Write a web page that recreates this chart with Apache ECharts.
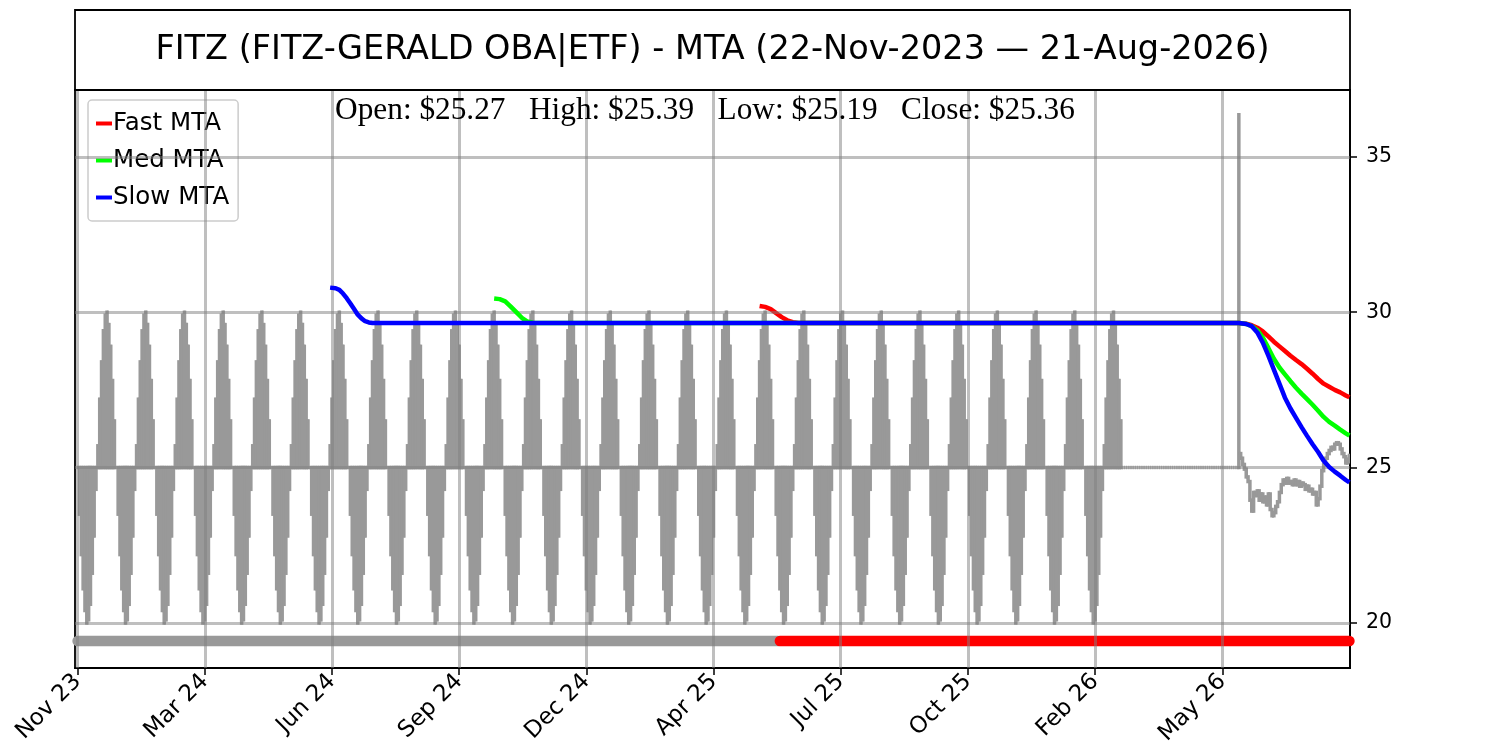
<!DOCTYPE html>
<html>
<head>
    <meta charset="UTF-8">
    <title>FITZ - MTA</title>
    <script src="https://cdn.jsdelivr.net/npm/echarts@6.0.0/dist/echarts.min.js"></script>
    <style>
        html, body {
            margin: 0;
            padding: 0;
            background: #fff;
        }

        #chart {
            width: 1500px;
            height: 750px;
        }
    </style>
</head>
<body>
<div id="chart"></div>

<script>
    // x axis is the bar index (trading days), labels sit on every 69th bar
    var tickIdx = [0, 69, 138, 207, 276, 345, 414, 483, 552, 621];
    var tickLabels = ['Nov 23', 'Mar 24', 'Jun 24', 'Sep 24', 'Dec 24', 'Apr 25', 'Jul 25', 'Oct 25', 'Feb 26', 'May 26'];
    var yTicks = [20, 25, 30, 35];

    // price bars
    var basePrice = 25;
    var sawCycle = [25.0, 23.5, 22.2, 21.1, 20.4, 20.0, 20.1, 20.6, 21.6, 22.8, 24.3,
        25.7, 27.2, 28.4, 29.4, 29.9, 30.0, 29.6, 28.9, 27.8, 26.5];
    var sawCycles = 27;      // the pattern repeats 27 times in the picture
    var flatBars = 63;       // bars stuck at 25 after the pattern
    var spikeBar = {open: 25, high: 36.35, low: 25, close: 25.45};
    var tailClose = [25.30, 25.10, 24.95, 24.70, 24.55, 23.95, 23.60, 24.20, 24.10, 24.25,
        23.95, 24.15, 23.90, 24.05, 23.80, 24.15, 23.65, 23.45, 23.55, 23.75,
        23.90, 24.20, 24.45, 24.60, 24.50, 24.65, 24.50, 24.55, 24.45, 24.60,
        24.45, 24.55, 24.40, 24.50, 24.45, 24.30, 24.40, 24.25, 24.30, 24.15,
        24.20, 23.80, 24.00, 24.40, 24.90, 25.10, 25.30, 25.45, 25.55, 25.65,
        25.60, 25.75, 25.80, 25.75, 25.60, 25.45, 25.35, 25.15, 25.27];
    var lastBar = {open: 25.27, high: 25.39, low: 25.19, close: 25.36};

    // moving trend averages, [bar index, value]
    var fastMta = [[370, 30.2], [373, 30.17], [376, 30.1], [379, 29.97], [382, 29.84], [385, 29.74],
        [388, 29.68], [391, 29.65], [630, 29.65], [634, 29.63], [637, 29.58], [640, 29.5],
        [643, 29.38], [646, 29.22], [649, 29.05], [652, 28.9], [655, 28.75], [658, 28.6],
        [661, 28.46], [664, 28.33], [667, 28.18], [670, 28.02], [673, 27.85], [676, 27.7],
        [679, 27.6], [682, 27.5], [685, 27.42], [688, 27.32], [690, 27.26]];
    var medMta = [[226, 30.44], [229, 30.42], [232, 30.35], [235, 30.18], [238, 30.0], [241, 29.82],
        [244, 29.7], [247, 29.66], [250, 29.65], [630, 29.65], [634, 29.62], [637, 29.55],
        [640, 29.42], [643, 29.18], [646, 28.85], [649, 28.5], [652, 28.22], [655, 28.0],
        [658, 27.78], [661, 27.57], [664, 27.38], [667, 27.2], [670, 27.02], [673, 26.83],
        [676, 26.63], [679, 26.47], [682, 26.35], [685, 26.22], [688, 26.1], [690, 26.03]];
    var slowMta = [[137, 30.79], [140, 30.77], [142, 30.72], [144, 30.6], [146, 30.45], [148, 30.28],
        [150, 30.1], [152, 29.92], [154, 29.8], [156, 29.71], [158, 29.67], [160, 29.65],
        [630, 29.65], [634, 29.62], [637, 29.55], [640, 29.35], [643, 29.02], [646, 28.6],
        [649, 28.15], [652, 27.7], [655, 27.25], [658, 26.9], [661, 26.6], [664, 26.3],
        [667, 26.02], [670, 25.75], [673, 25.5], [676, 25.22], [679, 25.02], [682, 24.87],
        [685, 24.74], [688, 24.6], [690, 24.52]];

    // signal strip under the bars
    var bandLevel = 19.42;
    var signalStart = 381;

    // ---- build rows [idx, open, high, low, close] ----
    var ohlc = [];
    var idx = 0;
    for (var c = 0; c < sawCycles; c++) {
        for (var k = 0; k < sawCycle.length; k++) {
            var v = sawCycle[k];
            ohlc.push([idx++, basePrice, Math.max(basePrice, v), Math.min(basePrice, v), v]);
        }
    }
    for (var f = 0; f < flatBars; f++) {
        ohlc.push([idx++, basePrice, basePrice, basePrice, basePrice]);
    }
    ohlc.push([idx++, spikeBar.open, spikeBar.high, spikeBar.low, spikeBar.close]);
    var prev = spikeBar.close;
    tailClose.forEach(function (v) {
        ohlc.push([idx++, prev, Math.max(prev, v), Math.min(prev, v), v]);
        prev = v;
    });
    ohlc.push([idx++, lastBar.open, lastBar.high, lastBar.low, lastBar.close]);

    var bandOff = [], bandOn = [];
    for (var i = 0; i < ohlc.length; i++) {
        if (i < signalStart) bandOff.push([i, bandLevel]);
        else bandOn.push([i, bandLevel]);
    }

    var gridColor = 'rgba(128,128,128,0.5)';
    var gridLines = tickIdx.map(function (t) { return {xAxis: t}; })
        .concat(yTicks.map(function (t) { return {yAxis: t}; }));

    var chart = echarts.init(document.getElementById('chart'), null, {renderer: 'canvas'});

    chart.setOption({
        animation: false,
        textStyle: {fontFamily: 'DejaVu Sans'},
        grid: {
            left: 75, right: 150, top: 90, bottom: 82,
            show: true, borderColor: '#000', borderWidth: 1.8, backgroundColor: '#fff'
        },
        graphic: [
            {
                type: 'rect', z: 10,
                shape: {x: 75, y: 10, width: 1275, height: 80},
                style: {fill: 'none', stroke: '#000', lineWidth: 1.8}
            },
            {
                type: 'text', x: 712.5, y: 50, z: 10,
                style: {
                    text: 'FITZ (FITZ-GERALD OBA|ETF) - MTA (22-Nov-2023 \u2014 21-Aug-2026)',
                    font: '33.5px "DejaVu Sans"', fill: '#000',
                    textAlign: 'center', textVerticalAlign: 'middle'
                }
            },
            {
                type: 'text', x: 705, y: 111, z: 10,
                style: {
                    text: 'Open: $25.27   High: $25.39   Low: $25.19   Close: $25.36',
                    font: '31.3px "Liberation Serif"', fill: '#000',
                    textAlign: 'center', textVerticalAlign: 'middle'
                }
            }
        ],
        legend: {
            data: ['Fast MTA', 'Med MTA', 'Slow MTA'],
            orient: 'vertical',
            left: 88, top: 100,
            padding: [11, 9, 11, 8],
            itemGap: 12,
            itemWidth: 16, itemHeight: 4,
            icon: 'rect',
            backgroundColor: 'rgba(255,255,255,0.8)',
            borderColor: '#cccccc', borderWidth: 1.5, borderRadius: 4,
            textStyle: {fontSize: 24.5, color: '#000', fontFamily: 'DejaVu Sans', padding: [0, 0, 0, -4]},
            selectedMode: false
        },
        xAxis: {
            type: 'value',
            min: -1.4, max: 690.3,
            axisLine: {show: true, onZero: false, lineStyle: {color: '#000', width: 1.8}},
            splitLine: {show: false},
            axisTick: {
                show: true, inside: false, customValues: tickIdx, length: 7,
                lineStyle: {color: '#000', width: 1.5}
            },
            axisLabel: {
                customValues: tickIdx, rotate: 45, margin: 10,
                fontSize: 23, color: '#000', fontFamily: 'DejaVu Sans',
                formatter: function (val) {
                    var n = tickIdx.indexOf(Math.round(val));
                    return n >= 0 ? tickLabels[n] : '';
                }
            }
        },
        yAxis: {
            type: 'value',
            position: 'right',
            min: 18.55, max: 37.15,
            axisLine: {show: true, onZero: false, lineStyle: {color: '#000', width: 1.8}},
            splitLine: {show: false},
            axisTick: {
                show: true, inside: false, customValues: yTicks, length: 7,
                lineStyle: {color: '#000', width: 1.5}
            },
            axisLabel: {
                customValues: yTicks, margin: 16,
                fontSize: 20.5, color: '#000', fontFamily: 'DejaVu Sans'
            }
        },
        series: [
            {
                name: 'Price',
                type: 'custom',
                z: 1,
                clip: true,
                data: ohlc,
                encode: {x: 0, y: [1, 2, 3, 4]},
                renderItem: function (params, api) {
                    var x = api.value(0);
                    var pO = api.coord([x, api.value(1)]);
                    var pH = api.coord([x, api.value(2)]);
                    var pL = api.coord([x, api.value(3)]);
                    var pC = api.coord([x, api.value(4)]);
                    var flat = api.value(2) === api.value(3);
                    var st = {stroke: '#999999', lineWidth: 3.5};
                    var stBar = {stroke: '#999999', lineWidth: 3.5, lineCap: flat ? 'butt' : 'square'};
                    return {
                        type: 'group',
                        children: [
                            {type: 'line', shape: {x1: pH[0], y1: pH[1], x2: pL[0], y2: pL[1]}, style: stBar},
                            {type: 'line', shape: {x1: pO[0] - 0.6, y1: pO[1], x2: pO[0], y2: pO[1]}, style: st},
                            {type: 'line', shape: {x1: pC[0], y1: pC[1], x2: pC[0] + 0.6, y2: pC[1]}, style: st}
                        ]
                    };
                }
            },
            {
                // grid lines, drawn over the price bars
                name: 'grid',
                type: 'line',
                z: 2,
                data: [],
                markLine: {
                    silent: true,
                    symbol: ['none', 'none'],
                    label: {show: false},
                    lineStyle: {color: gridColor, width: 3, type: 'solid'},
                    data: gridLines
                }
            },
            {
                name: 'no signal',
                type: 'line',
                z: 3,
                clip: true,
                showSymbol: false,
                lineStyle: {color: '#999999', width: 10.5, cap: 'round'},
                data: bandOff
            },
            {
                name: 'signal',
                type: 'line',
                z: 3,
                clip: true,
                showSymbol: false,
                lineStyle: {color: '#ff0000', width: 10.5, cap: 'round'},
                data: bandOn
            },
            {
                name: 'Fast MTA', type: 'line', z: 4, data: fastMta,
                showSymbol: false, color: '#ff0000',
                lineStyle: {color: '#ff0000', width: 4.5}
            },
            {
                name: 'Med MTA', type: 'line', z: 5, data: medMta,
                showSymbol: false, color: '#00ff00',
                lineStyle: {color: '#00ff00', width: 4.5}
            },
            {
                name: 'Slow MTA', type: 'line', z: 6, data: slowMta,
                showSymbol: false, color: '#0000ff',
                lineStyle: {color: '#0000ff', width: 4.5}
            }
        ]
    });
</script>
</body>
</html>
